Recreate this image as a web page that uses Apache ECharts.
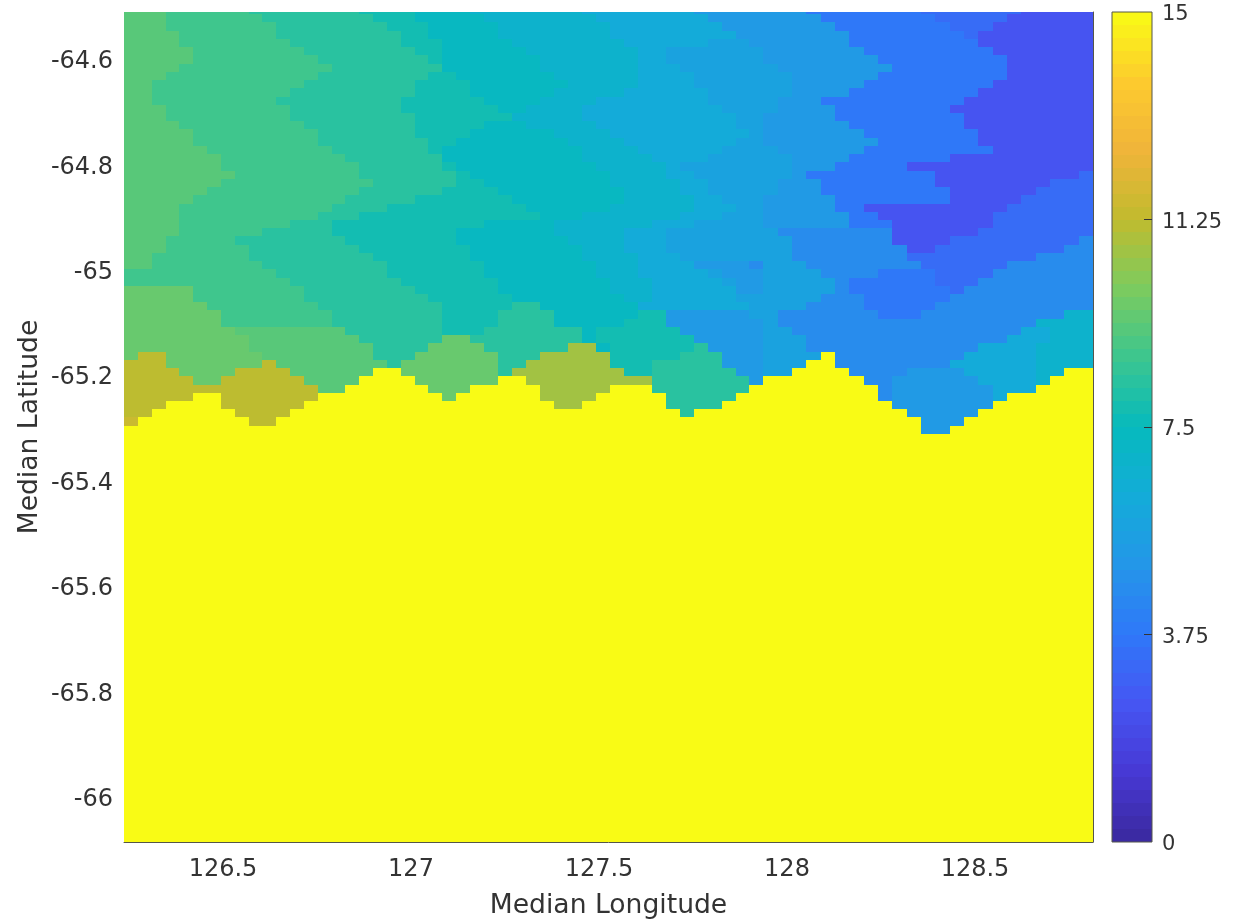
<!DOCTYPE html>
<html><head><meta charset="utf-8">
<style>html,body{margin:0;padding:0;background:#fff}#c{width:1250px;height:921px}</style>
<script src="https://cdn.jsdelivr.net/npm/echarts@6/dist/echarts.min.js"></script>
</head><body><div id="c"></div>
<script>
const lonTicks = [126.5, 127, 127.5, 128, 128.5];
const latTicks = [-66, -65.8, -65.6, -65.4, -65.2, -65, -64.8, -64.6];
const barTicks = [0, 3.75, 7.5, 11.25, 15];
const lonRange = [126.2367, 128.8138];
const latRange = [-66.0839, -64.5089];
const lonStart = 126.2367;
const lonSteps = [[23, 0.03681], [23, 0.03713], [23, 0.0381]];
const latStart = -64.4975;
const latStep = 0.015617;
const levelCodes = 'abcefghijklmnoprst';
const levelValues = [2.4, 2.8, 3.3, 3.75, 4.6, 5.2, 5.7, 6.2, 6.8, 7.3, 7.8, 8.3, 8.8, 9.3, 9.6, 10.7, 11.2, 11.5];
const maskedValue = 15;
const totalRows = 102;
// first row (from the top of the data) that is saturated, per column
const edgeRow = [50,49,48,47,47,46,46,48,49,50,50,49,48,47,46,46,45,44,43,43,44,45,46,47,46,45,45,44,44,45,47,48,48,47,46,45,45,45,46,48,49,48,48,47,46,45,44,44,43,42,41,43,44,45,47,48,49,51,51,50,49,48,47,46,46,45,44,43,43];
// rows above the edge, run-length coded: level letter + end column (exclusive)
const rowRuns = [
'o3 n9 m17 l21 k25 j33 i41 g49 e57 c64 a69',
'o3 n10 m18 l21 k26 j34 i42 g50 e58 c63 a69',
'o3 n11 m19 l22 k27 j35 i43 g51 e59 c62 a69',
'o4 n11 m20 l22 k27 j35 i44 g52 e60 c61 a69',
'o4 n12 m20 l23 k28 j36 i42 h45 g52 e61 a69',
'o5 n13 m21 l23 k29 j37 i39 h46 g53 e62 a69',
'o5 n14 m22 l23 k30 j37 i39 h46 g54 e63 a69',
'o4 n15 m23 k30 j37 i40 h47 g55 e63 a69',
'o3 n14 m22 l24 k31 j37 i41 h48 g54 e63 a69',
'o2 n13 m21 l25 k32 j37 i41 h48 g53 e62 a69',
'o2 n12 m21 l25 k31 j36 i42 h48 g52 e61 a69',
'o2 n11 m20 l26 k30 j34 i42 h47 g50 e60 a69',
'o3 n12 m20 l27 k29 j33 i43 h47 g51 e59 a69',
'o3 n12 m21 l28 j33 i44 h46 g51 e60 a69',
'o4 n13 m21 l26 k29 j34 i44 h46 g52 e60 a69',
'o5 n14 m21 l25 k31 j35 i45 h46 g53 e61 a69',
'o5 n14 m22 l24 k32 j36 i44 h46 g54 e61 a69',
'o6 n15 m22 l23 k33 j37 i43 h47 g53 e62 a69',
'o7 n16 m23 k33 j38 i42 h48 g52 e59 a69',
'o7 n17 m23 l24 k34 j39 i40 h48 g51 e56 a69',
'o8 n17 m24 l25 k35 j39 i41 h48 g49 e58 a68 c69',
'o7 n18 m24 l26 k35 j40 i42 h47 g50 e58 a66 c69',
'o6 n17 m23 l27 k36 j40 i42 h47 g50 e59 a65 c69',
'o5 n16 m21 l28 k36 j41 i43 h46 g51 e59 a64 c69',
'o4 n15 m19 l29 k35 j41 i44 h46 g51 e53 a63 c69',
'o4 n14 m17 l30 k33 j40 i43 h46 g52 e54 a62 c69',
'o4 n12 m15 l26 k31 j38 i41 h46 g52 e55 a62 c69',
'o4 n10 m15 l24 k31 j36 i39 h47 f55 a61 c69',
'o3 n8 m16 l24 k32 j36 i39 h48 f55 a59 c68 f69',
'o3 n9 m17 l25 k33 j36 i39 h48 f56 a58 c67 f69',
'o2 n9 m18 l25 k33 j37 i40 h48 f56 c65 f69',
'o2 n10 m19 l26 k34 j37 i41 g45 f46 h49 f57 c63 f69',
'n11 m19 l26 k34 j37 i42 h43 g46 h50 f54 e58 c62 f69',
'n12 m20 l27 k35 j38 i43 h44 g46 h51 f52 e58 c61 f69',
'p5 n13 m21 l27 k35 j38 i44 g46 h51 f52 e59 c60 f69',
'p5 n13 m22 l28 k36 j38 i44 h50 f53 e59 f69',
'p6 n14 m23 l28 m30 k37 i45 h49 f53 e58 f69',
'p7 n15 m23 l27 m31 k37 l39 g45 h47 f54 e57 f67 j69',
'p7 n15 m23 l27 m31 k36 l39 g46 h47 f65 j69',
'p8 o16 m23 l26 m33 k34 l40 g46 h48 f64 i66 j69',
'p9 o17 m23 p25 m33 k34 l41 g46 h49 f63 i66 j69',
'p9 o18 m22 p26 m32 r34 k35 l41 m42 g46 h49 f61 i65 j69',
'p1 s3 p10 o18 m21 p27 m30 r35 l40 m43 g46 h50 f60 i65 j69',
's3 p10 s11 o19 m20 p27 m29 r35 l38 m43 g46 h50 f59 i65 j69',
's4 p8 s12 o20 p27 m28 r36 l38 m44 g46 h50 f56 g60 i65 j69',
's5 p7 s13 o21 p27 r38 m45 g46 h50 f55 g61 i65 j69',
's14 o22 p25 r35 m45 f55 g62 i65 j69',
's14 o22 p24 r34 m44 f55 g62 i69',
's13 o23 p24 r33 m43 f54 g63 i69',
's12 r33 m41 g69',
't1 s12 r33 m41 g69',
'g69'
];
const parulaStops = ['#3A289E','#4738D4','#4656F3','#2F78F8','#2496E8','#13ACD8','#06BABD','#3CC68F','#7CCB5E','#C0BB2E','#F0B43A','#FDCB2E','#F9FB15'];
const barLevels = 64;

const lonEdges = [lonStart];
lonSteps.forEach(function (s) { for (let i = 0; i < s[0]; i++) lonEdges.push(lonEdges[lonEdges.length - 1] + s[1]); });
const cellData = [];
for (let r = 0; r < totalRows; r++) {
  const k = r - 1;
  const runs = rowRuns[r] ? rowRuns[r].split(' ') : [];
  let run = 0;
  for (let c = 0; c < edgeRow.length; c++) {
    while (run < runs.length - 1 && c >= parseInt(runs[run].slice(1), 10)) run++;
    let v = maskedValue;
    if (k < edgeRow[c] && runs.length) v = levelValues[levelCodes.indexOf(runs[run][0])];
    cellData.push([lonEdges[c], lonEdges[c + 1], latStart - r * latStep, latStart - (r + 1) * latStep, v]);
  }
}
const barData = [];
for (let i = 0; i < barLevels; i++) {
  const lo = 15 * i / barLevels, hi = 15 * (i + 1) / barLevels;
  barData.push([0, 1, hi, lo, (lo + hi) / 2]);
}
function renderCell(params, api) {
  const p0 = api.coord([api.value(0), api.value(2)]);
  const p1 = api.coord([api.value(1), api.value(3)]);
  const x = Math.round(p0[0]), y = Math.round(p0[1]);
  return { type: 'rect',
    shape: { x: x, y: y, width: Math.round(p1[0]) - x, height: Math.round(p1[1]) - y },
    style: { fill: api.visual('color') } };
}
const txt = '#333333', fam = 'DejaVu Sans', line = '#55564a';
const chart = echarts.init(document.getElementById('c'), null, { renderer: 'canvas' });
chart.setOption({
  animation: false,
  backgroundColor: '#ffffff',
  grid: [
    { left: 124, top: 12, width: 969, height: 830, outerBoundsMode: 'none' },
    { left: 1112, top: 12, width: 40, height: 830, outerBoundsMode: 'none', show: true, backgroundColor: 'transparent', borderColor: line, borderWidth: 1, z: 10 }
  ],
  visualMap: { show: false, type: 'continuous', min: 0, max: 15, dimension: 4, seriesIndex: [0, 1], inRange: { color: parulaStops } },
  xAxis: [
    { gridIndex: 0, type: 'value', min: lonRange[0], max: lonRange[1], z: 10,
      name: 'Median Longitude', nameLocation: 'middle', nameGap: 51,
      nameTextStyle: { fontFamily: fam, fontSize: 26.6, color: txt },
      axisLine: { show: true, onZero: false, lineStyle: { color: line, width: 1 } }, axisTick: { show: false }, splitLine: { show: false },
      axisLabel: { customValues: lonTicks, margin: 16, fontFamily: fam, fontSize: 24, color: txt, formatter: function (v) { return String(v); } } },
    { gridIndex: 1, type: 'value', min: 0, max: 1, show: false }
  ],
  yAxis: [
    { gridIndex: 0, type: 'value', min: latRange[0], max: latRange[1], z: 10,
      name: 'Median Latitude', nameLocation: 'middle', nameGap: 80, nameRotate: 90, nameMoveOverlap: false,
      nameTextStyle: { fontFamily: fam, fontSize: 26.6, color: txt },
      axisLine: { show: false, onZero: false }, axisTick: { show: false }, splitLine: { show: false },
      axisLabel: { customValues: latTicks, margin: 11, fontFamily: fam, fontSize: 24, color: txt, formatter: function (v) { return '{a|' + v + '}'; },
        rich: { a: { fontFamily: fam, fontSize: 24, color: txt, padding: [4, 0, 0, 0] } } } },
    { gridIndex: 0, type: 'value', position: 'right', min: latRange[0], max: latRange[1], z: 10,
      axisLine: { show: true, onZero: false, lineStyle: { color: line, width: 1 } }, axisTick: { show: false }, axisLabel: { show: false }, splitLine: { show: false } },
    { gridIndex: 1, type: 'value', position: 'right', min: 0, max: 15, interval: 3.75, z: 10,
      axisLine: { show: false, onZero: false }, splitLine: { show: false },
      axisTick: { show: true, inside: true, length: 8, lineStyle: { color: '#333', width: 1 }, customValues: barTicks.slice(1, 4) },
      axisLabel: { margin: 10, fontFamily: fam, fontSize: 21, color: txt, formatter: function (v) { return '{a|' + v + '}'; },
        rich: { a: { fontFamily: fam, fontSize: 21, color: txt, padding: [6, 0, 0, 0] } } } }
  ],
  series: [
    { type: 'custom', xAxisIndex: 0, yAxisIndex: 0, clip: true, silent: true, progressive: 0, renderItem: renderCell, data: cellData, encode: { x: [0, 1], y: [2, 3] } },
    { type: 'custom', xAxisIndex: 1, yAxisIndex: 2, clip: true, silent: true, progressive: 0, renderItem: renderCell, data: barData, encode: { x: [0, 1], y: [2, 3] } }
  ]
});
</script></body></html>
